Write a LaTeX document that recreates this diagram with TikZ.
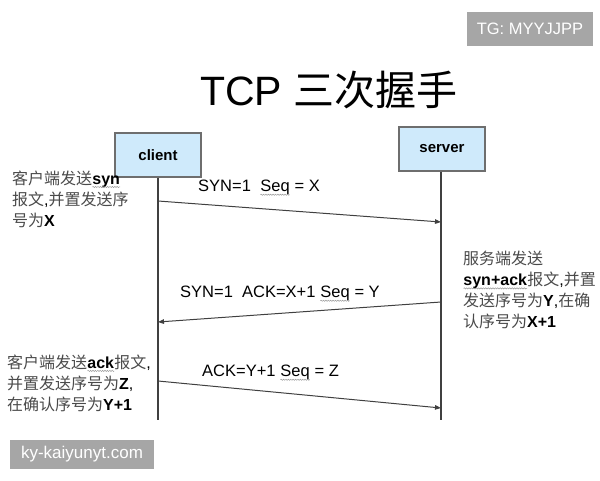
\documentclass[tikz,border=0pt]{standalone}
\usepackage{fontspec}
\setmainfont{Liberation Sans}
\newfontfamily\cjk{Noto Sans CJK SC}
\usetikzlibrary{arrows.meta,decorations.pathmorphing}
\definecolor{boxblue}{HTML}{CFEAFB}
\definecolor{boxline}{HTML}{6E6E6E}
\definecolor{zhgray}{HTML}{4A4A4A}
\definecolor{wmgray}{HTML}{A6A6A6}
\definecolor{lineg}{HTML}{404040}
\newcommand\sqg[1]{\tikz[baseline=(w.base)]{\node[inner sep=0pt,outer sep=0pt] (w) {#1};
  \draw[gray!80, line width=0.5pt, decorate, decoration={snake,amplitude=0.6pt,segment length=2.4pt}] ([yshift=-2.8pt]w.base west) -- ([yshift=-2.8pt]w.base east);}}
\newcommand\zh[1]{{\cjk\color{zhgray}#1}}
\tikzset{
  actor/.style={draw=boxline, line width=1.2pt, fill=boxblue, minimum width=86pt, minimum height=44pt, inner sep=0pt, font=\fontsize{15}{18}\selectfont\bfseries},
  life/.style={draw=lineg, line width=1.3pt},
  msg/.style={draw=lineg, line width=1pt, -{Triangle[length=6pt,width=4.5pt]}},
  lbl/.style={anchor=west, inner sep=0pt, font=\fontsize{16.5}{20}\selectfont},
  txt/.style={anchor=west, inner sep=0pt, align=left, font=\fontsize{16}{21}\selectfont},
  wm/.style={fill=wmgray, text=white, inner sep=0pt, font=\fontsize{16.5}{20}\selectfont}
}
\begin{document}
\begin{tikzpicture}[x=1pt,y=-1pt]
\useasboundingbox (0,0) rectangle (600,480);
% watermarks
\node[wm, minimum width=126pt, minimum height=34.5pt] (tg) at (530,28.75) {TG: MYYJJPP};
\node[wm, minimum width=144pt, minimum height=29pt, font=\fontsize{17}{20}\selectfont] (ky) at (82,454.5) {ky-kaiyunyt.com};
% title
\node[inner sep=0pt] (title) at (329,90) {\fontsize{41}{48}\selectfont TCP {\cjk 三次握手}};
% actors
\node[actor] (client) at (158,155) {client};
\node[actor] (server) at (442,149) {server};
\coordinate (cend) at (158,420);
\coordinate (send) at (441,420);
\draw[life] (client.south) -- (cend);
\draw[life] (server.south -| send) -- (send);
% message anchors
\coordinate (c1) at (158,201);
\coordinate (s1) at (441,222);
\coordinate (s2) at (441,302);
\coordinate (c2) at (158,322);
\coordinate (c3) at (158,381);
\coordinate (s3) at (441,408);
\draw[msg] (c1) -- (s1);
\draw[msg] (s2) -- (c2);
\draw[msg] (c3) -- (s3);
% labels
\node[lbl] (l1) at (198,188) {SYN=1\ \ \sqg{Seq} = X};
\node[lbl] (l2) at (180,294) {SYN=1\ \ ACK=X+1 \sqg{Seq} = Y};
\node[lbl] (l3) at (202,373) {ACK=Y+1 \sqg{Seq} = Z};
% descriptions
\node[txt] (d1) at (12,199) {\zh{客户端发送}\sqg{\textbf{syn}}\\\zh{报文},\zh{并置发送序}\\\zh{号为}\textbf{X}};
\node[txt] (d2) at (463,290) {\zh{服务端发送}\\\sqg{\textbf{syn+ack}}\zh{报文},\zh{并置}\\\zh{发送序号为}\textbf{Y},\zh{在确}\\\zh{认序号为}\textbf{X+1}};
\node[txt] (d3) at (7,383) {\zh{客户端发送}\sqg{\textbf{ack}}\zh{报文},\\\zh{并置发送序号为}\textbf{Z},\\\zh{在确认序号为}\textbf{Y+1}};
\end{tikzpicture}
\end{document}
